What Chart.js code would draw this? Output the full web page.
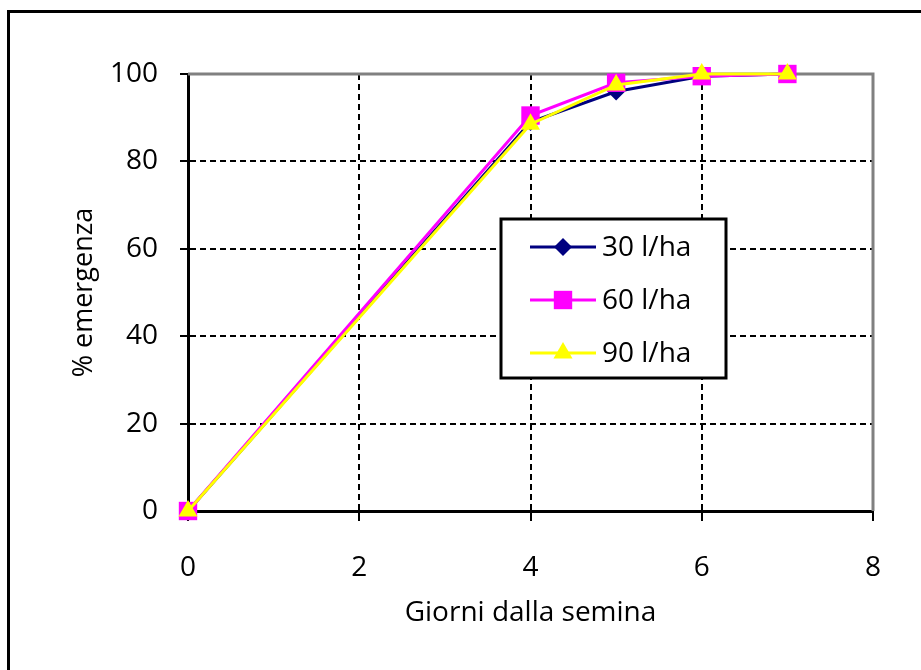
<!doctype html>
<html lang="it">
<head>
<meta charset="utf-8">
<title>% emergenza</title>
<script src="https://cdn.jsdelivr.net/npm/chart.js"></script>
<style>
  * { margin: 0; padding: 0; }
  body { background: #fff; width: 921px; height: 670px; overflow: hidden; }
  #chart { display: block; }
</style>
</head>
<body>
<canvas id="chart" width="921" height="670"></canvas>
<script>
// data
const giorni = [0, 4, 5, 6, 7];
const serie30 = [0, 89, 96, 99.5, 100];
const serie60 = [0, 90.5, 98, 99.5, 100];
const serie90 = [0, 88.5, 97.5, 100, 100];
const etichette = ['30 l/ha', '60 l/ha', '90 l/ha'];
const yTicks = [0, 20, 40, 60, 80, 100];
const xTicks = [0, 2, 4, 6, 8];

const FONT = '"Open Sans", "Liberation Sans", sans-serif';

function punti(ys) {
    return giorni.map((g, i) => ({ x: g, y: ys[i] }));
}

function serie(label, ys, color, style, radius, order) {
    return {
        label: label,
        data: punti(ys),
        borderColor: color,
        backgroundColor: color,
        pointBackgroundColor: color,
        pointBorderColor: color,
        pointBorderWidth: 0,
        pointStyle: style,
        pointRadius: radius,
        pointHoverRadius: radius,
        borderWidth: 3,
        tension: 0,
        clip: false,
        order: order
    };
}

// outer frame + gray top/right borders of the plot
const frame = {
    id: 'frame',
    beforeDraw(chart) {
        const ctx = chart.ctx;
        ctx.save();
        ctx.fillStyle = '#fff';
        ctx.fillRect(0, 0, chart.width, chart.height);
        ctx.strokeStyle = '#000';
        ctx.lineWidth = 3;
        ctx.beginPath();
        ctx.moveTo(8.5, chart.height);
        ctx.lineTo(8.5, 11.5);
        ctx.lineTo(chart.width, 11.5);
        ctx.stroke();
        ctx.restore();
    },
    beforeDatasetsDraw(chart) {
        const a = chart.chartArea;
        const ctx = chart.ctx;
        ctx.save();
        ctx.strokeStyle = '#808080';
        ctx.lineWidth = 3;
        ctx.beginPath();
        ctx.moveTo(a.left, a.top);
        ctx.lineTo(a.right, a.top);
        ctx.lineTo(a.right, a.bottom);
        ctx.stroke();
        ctx.restore();
    }
};

// legend box inside the plot
const legendaBox = {
    id: 'legendaBox',
    afterDraw(chart) {
        const ctx = chart.ctx;
        const bx = 501, by = 219, bw = 225, bh = 159;
        ctx.save();
        ctx.fillStyle = '#fff';
        ctx.fillRect(bx, by, bw, bh);
        ctx.strokeStyle = '#000';
        ctx.lineWidth = 3;
        ctx.strokeRect(bx, by, bw, bh);
        ctx.font = '28px ' + FONT;
        ctx.textBaseline = 'middle';
        ctx.textAlign = 'left';
        chart.data.datasets.forEach((ds, i) => {
            const y = 247 + i * 53;
            ctx.strokeStyle = ds.borderColor;
            ctx.lineWidth = 3;
            ctx.beginPath();
            ctx.moveTo(530, y);
            ctx.lineTo(596, y);
            ctx.stroke();
            ctx.fillStyle = ds.borderColor;
            Chart.helpers.drawPoint(ctx, {
                pointStyle: ds.pointStyle,
                radius: ds.pointRadius,
                rotation: 0,
                borderWidth: 0
            }, 563, y);
            ctx.fillStyle = '#000';
            ctx.fillText(ds.label, 602, y + 1);
        });
        ctx.restore();
    }
};

const config = {
    type: 'line',
    data: {
        datasets: [
            serie(etichette[0], serie30, '#000080', 'rectRot', 9, 3),
            serie(etichette[1], serie60, '#FF00FF', 'rect', 13, 2),
            serie(etichette[2], serie90, '#FFFF00', 'triangle', 11, 1)
        ]
    },
    options: {
        responsive: false,
        animation: false,
        layout: { padding: { left: 0, top: 74, right: 48, bottom: 0 } },
        plugins: {
            legend: { display: false },
            tooltip: { enabled: false }
        },
        scales: {
            x: {
                type: 'linear',
                min: 0,
                max: 8,
                afterBuildTicks(scale) {
                    scale.ticks = xTicks.map(v => ({ value: v }));
                },
                afterFit(scale) { scale.height = 159; },
                // in v4 border.dash is the dash of the grid lines
                border: { display: true, color: '#000', width: 3, dash: [6, 4] },
                grid: {
                    color: ctx => (ctx.tick && (ctx.tick.value === 0 || ctx.tick.value === 8)) ? 'rgba(0,0,0,0)' : '#000',
                    lineWidth: 2,
                    tickColor: '#000',
                    tickWidth: 2,
                    tickLength: 10,
                    tickBorderDash: [],
                },
                ticks: {
                    color: '#000',
                    font: { size: 28, family: FONT },
                    padding: 30,
                    maxRotation: 0
                },
                title: {
                    display: true,
                    text: 'Giorni dalla semina',
                    color: '#000',
                    font: { size: 28, family: FONT },
                    padding: { top: 0, bottom: 40 }
                }
            },
            y: {
                type: 'linear',
                min: 0,
                max: 100,
                afterBuildTicks(scale) {
                    scale.ticks = yTicks.map(v => ({ value: v }));
                },
                afterFit(scale) { scale.width = 188; },
                border: { display: true, color: '#000', width: 3, dash: [6, 4] },
                grid: {
                    color: ctx => (ctx.tick && (ctx.tick.value === 0 || ctx.tick.value === 100)) ? 'rgba(0,0,0,0)' : '#000',
                    lineWidth: 2,
                    tickColor: '#000',
                    tickWidth: 2,
                    tickLength: 8,
                    tickBorderDash: [],
                },
                ticks: {
                    color: '#000',
                    font: { size: 28, family: FONT },
                    padding: 22
                },
                title: {
                    display: true,
                    text: '% emergenza',
                    color: '#000',
                    font: { size: 27, family: FONT },
                    padding: { top: 68, bottom: 0 }
                }
            }
        }
    },
    plugins: [frame, legendaBox]
};

const grafico = new Chart(document.getElementById('chart'), config);
</script>
</body>
</html>
